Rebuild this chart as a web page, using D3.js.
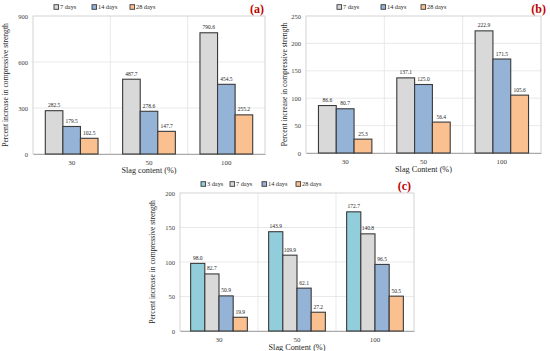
<!DOCTYPE html>
<html>
<head>
<meta charset="utf-8">
<script src="https://cdn.jsdelivr.net/npm/d3@7"></script>
<style>
  body { margin: 0; background: #fff; }
  svg text { font-family: "Liberation Serif", "Times New Roman", serif; }
</style>
</head>
<body>
<div id="chart"></div>
<script>
// slag content categories
let slagLevels = ["30", "50", "100"];

// panel (a)
let aSeries = ["7 days", "14 days", "28 days"];
let aDay7 = [282.5, 487.7, 790.6];
let aDay14 = [179.5, 278.6, 454.5];
let aDay28 = [102.5, 147.7, 255.2];
let aTicks = [0, 300, 600, 900];

// panel (b)
let bSeries = ["7 days", "14 days", "28 days"];
let bDay7 = [86.6, 137.1, 222.9];
let bDay14 = [80.7, 125.0, 171.5];
let bDay28 = [25.3, 56.4, 105.6];
let bTicks = [0, 50, 100, 150, 200, 250];

// panel (c)
let cSeries = ["3 days", "7 days", "14 days", "28 days"];
let cDay3 = [98.0, 143.9, 172.7];
let cDay7 = [82.7, 109.9, 140.8];
let cDay14 = [50.9, 62.1, 96.5];
let cDay28 = [19.9, 27.2, 50.5];
let cTicks = [0, 50, 100, 150, 200];

let colors = {"3 days": "#92cddc", "7 days": "#d9d9d9", "14 days": "#95b3d7", "28 days": "#fac090"};
let ink = "#262626";

let svg = d3.select("#chart").append("svg")
    .attr("width", 550)
    .attr("height", 351);

function drawPanel(opt) {
    let x0 = d3.scaleBand().domain(slagLevels).range([opt.left, opt.right]);
    let x1 = d3.scaleBand().domain(opt.series).range([0, x0.bandwidth()])
        .paddingOuter(opt.outer);
    let y = d3.scaleLinear().domain([0, opt.ticks[opt.ticks.length - 1]]).range([opt.bottom, opt.top]);

    let g = svg.append("g");

    // gridlines
    g.selectAll(".hgrid").data(opt.ticks.slice(1, -1)).enter().append("line")
        .attr("x1", opt.left).attr("x2", opt.right)
        .attr("y1", d => y(d)).attr("y2", d => y(d))
        .attr("stroke", "#e3e3e3").attr("stroke-width", 0.8);
    g.selectAll(".vgrid").data(slagLevels.slice(1)).enter().append("line")
        .attr("x1", d => x0(d)).attr("x2", d => x0(d))
        .attr("y1", opt.top).attr("y2", opt.bottom)
        .attr("stroke", "#e3e3e3").attr("stroke-width", 0.8);

    // plot border
    g.append("rect")
        .attr("x", opt.left).attr("y", opt.top)
        .attr("width", opt.right - opt.left).attr("height", opt.bottom - opt.top)
        .attr("fill", "none").attr("stroke", "#c8c8c8").attr("stroke-width", 0.8);

    // y ticks
    let yAxis = g.append("g")
        .attr("transform", "translate(" + opt.left + ",0)")
        .call(d3.axisLeft(y).tickValues(opt.ticks).tickSize(0).tickPadding(5));
    yAxis.select(".domain").remove();
    yAxis.selectAll("text").attr("font-size", 6.5).attr("font-family", "Liberation Serif").attr("fill", "#404040");

    // x axis
    let xAxis = g.append("g")
        .attr("transform", "translate(0," + opt.bottom + ")")
        .call(d3.axisBottom(x0).tickSize(0).tickPadding(6));
    xAxis.select(".domain").attr("stroke", "#999").attr("stroke-width", 0.8);
    xAxis.selectAll("text").attr("font-size", 7).attr("font-family", "Liberation Serif").attr("fill", "#404040");

    // bars
    let rows = slagLevels.map((s, i) => ({s: s, bars: opt.series.map((name, k) => ({name: name, v: opt.values[k][i]}))}));
    let groups = g.selectAll(".grp").data(rows).enter().append("g")
        .attr("transform", d => "translate(" + x0(d.s) + ",0)");
    groups.selectAll("rect").data(d => d.bars)
        .enter().append("rect")
        .attr("x", d => x1(d.name))
        .attr("y", d => y(d.v))
        .attr("width", x1.bandwidth())
        .attr("height", d => y(0) - y(d.v))
        .attr("fill", d => colors[d.name])
        .attr("stroke", "#3a3a3a").attr("stroke-width", 1.1);
    groups.selectAll("text").data(d => d.bars)
        .enter().append("text")
        .attr("x", d => x1(d.name) + x1.bandwidth() / 2)
        .attr("y", d => y(d.v) - 3.5)
        .attr("text-anchor", "middle")
        .attr("font-size", 5.5)
        .attr("fill", ink)
        .text(d => d.v.toFixed(1));

    // axis titles
    g.append("text")
        .attr("x", (opt.left + opt.right) / 2).attr("y", opt.bottom + 19)
        .attr("text-anchor", "middle").attr("font-size", 8.2)
        .attr("fill", ink)
        .text(opt.xTitle);
    g.append("text")
        .attr("transform", "translate(" + opt.yTitleX + "," + (opt.top + opt.bottom) / 2 + ") rotate(-90)")
        .attr("text-anchor", "middle").attr("font-size", 7.6)
        .attr("fill", ink)
        .text("Percent increase in compressive strength");

    // legend
    let leg = g.selectAll(".leg").data(opt.series).enter().append("g")
        .attr("transform", (d, i) => "translate(" + opt.legendX[i] + "," + opt.legendY + ")");
    leg.append("rect")
        .attr("x", 0).attr("y", -2.3).attr("width", 4.6).attr("height", 4.6)
        .attr("fill", d => colors[d]).attr("stroke", "#3a3a3a").attr("stroke-width", 0.9);
    leg.append("text")
        .attr("x", 6).attr("y", 2.2)
        .attr("font-size", 6.3)
        .attr("fill", ink)
        .text(d => d);

    // panel letter
    g.append("text")
        .attr("x", opt.tagX).attr("y", opt.tagY)
        .attr("text-anchor", "end")
        .attr("font-size", 12).attr("font-weight", "bold")
        .attr("fill", "#c00000")
        .text(opt.tag);
}

drawPanel({
    left: 33, right: 265, top: 16, bottom: 154,
    series: aSeries, values: [aDay7, aDay14, aDay28], ticks: aTicks, outer: 0.7,
    xTitle: "Slag content (%)", yTitleX: 8,
    legendX: [54, 92, 130], legendY: 7,
    tag: "(a)", tagX: 264, tagY: 13
});

drawPanel({
    left: 306, right: 541, top: 16, bottom: 153,
    series: bSeries, values: [bDay7, bDay14, bDay28], ticks: bTicks, outer: 0.7,
    xTitle: "Slag Content (%)", yTitleX: 287,
    legendX: [337, 381, 421], legendY: 7,
    tag: "(b)", tagX: 546, tagY: 13
});

drawPanel({
    left: 180, right: 414, top: 193, bottom: 331,
    series: cSeries, values: [cDay3, cDay7, cDay14, cDay28], ticks: cTicks, outer: 0.75,
    xTitle: "Slag Content (%)", yTitleX: 155,
    legendX: [201, 230, 262, 296], legendY: 184,
    tag: "(c)", tagX: 411, tagY: 190
});
</script>
</body>
</html>
